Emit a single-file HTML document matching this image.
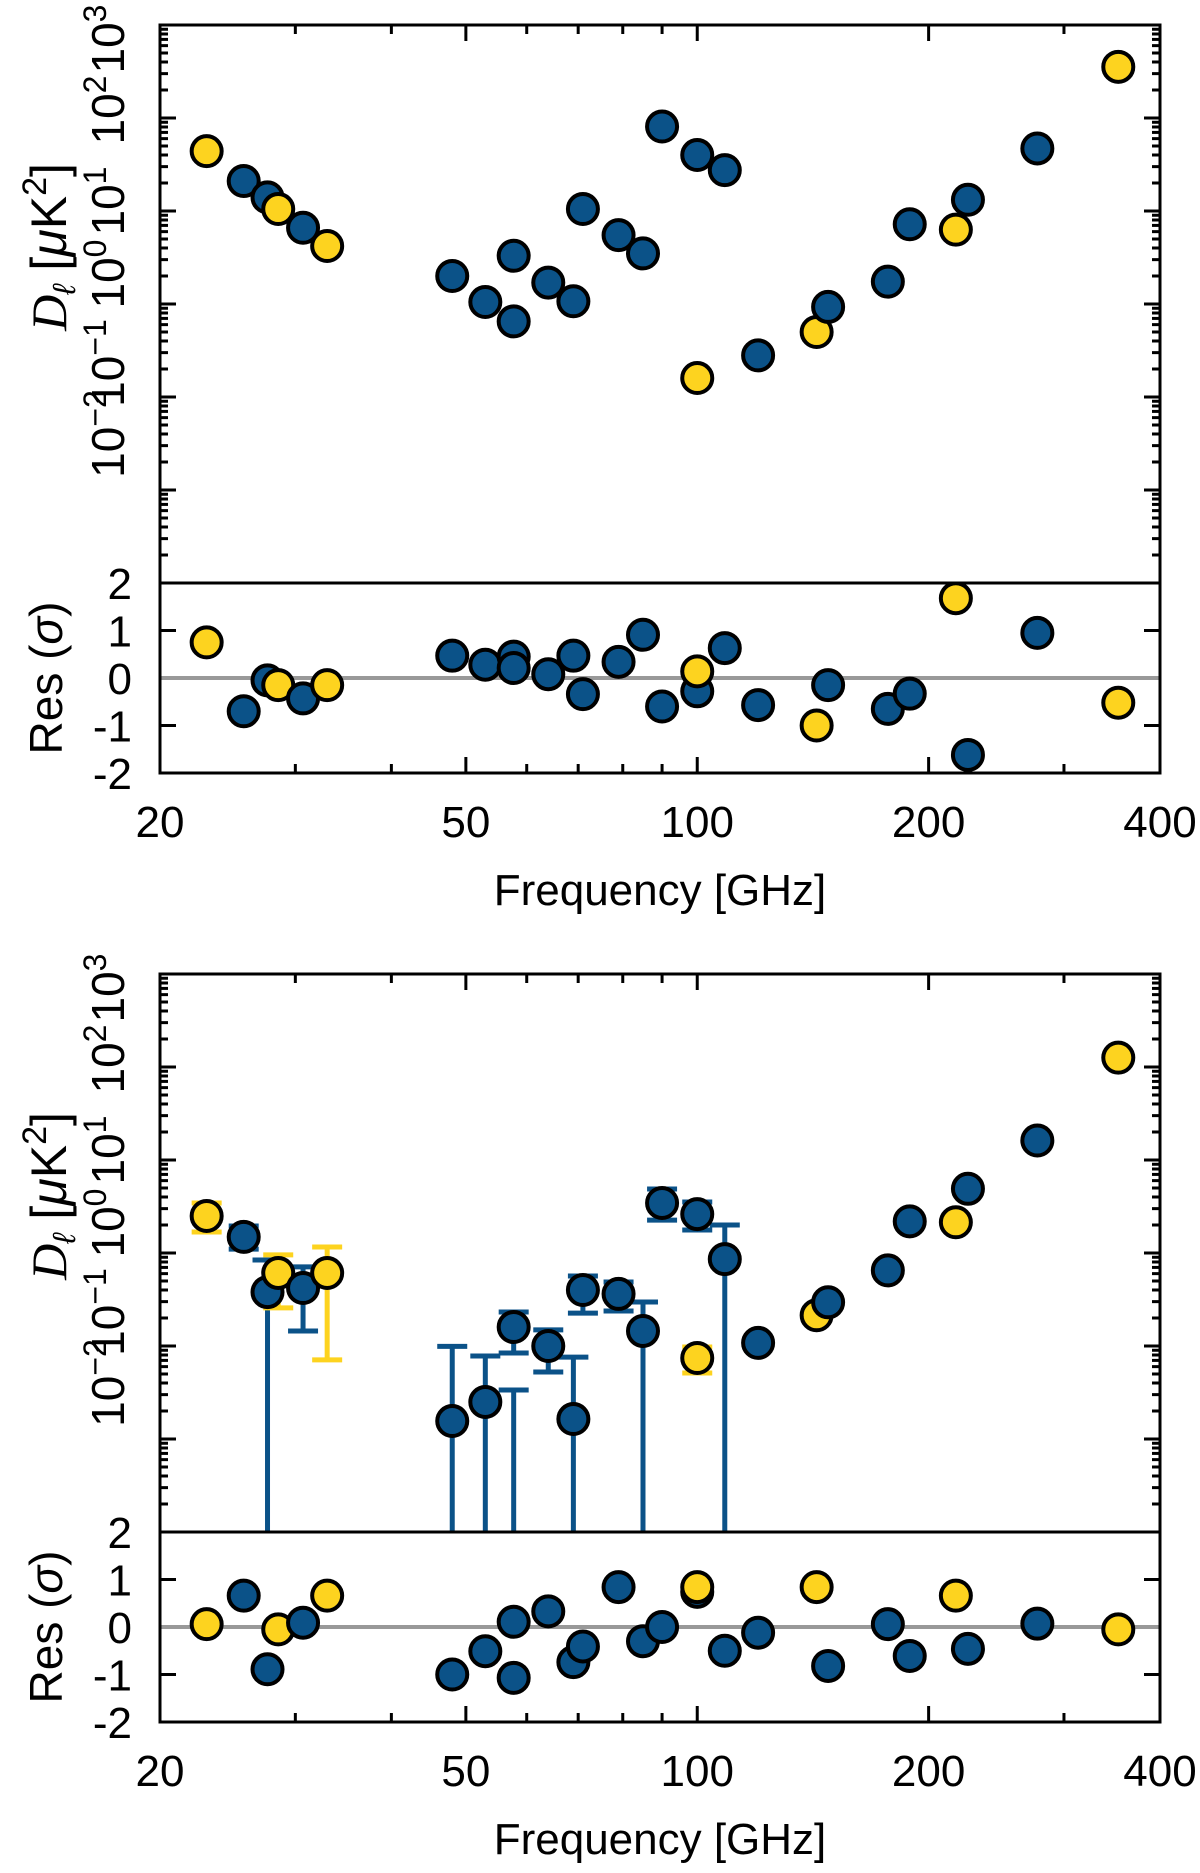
<!DOCTYPE html>
<html>
<head>
<meta charset="utf-8">
<style>
  html,body{margin:0;padding:0;background:#fff;}
  svg{display:block;font-family:"Liberation Sans","DejaVu Sans",sans-serif;}
</style>
</head>
<body>
<svg id="fig" xmlns="http://www.w3.org/2000/svg" width="1200" height="1873" viewBox="0 0 1200 1873">
  <rect x="0" y="0" width="1200" height="1873" fill="#fff"/>
</svg>
<script>
// ---- data ----
const freqs = [23,25.7,27.6,28.5,30.7,33,48,53,57.7,57.7,64,69,71,79,85,90,100,100,108.6,120,143,148,177,189,217,225,277,353];
const bands = ['Y','B','B','Y','B','Y','B','B','B','B','B','B','B','B','B','B','B','Y','B','B','Y','B','B','B','Y','B','B','Y'];
const upperVals = [44,21,14,10.5,6.6,4.2,2.0,1.05,3.3,0.65,1.7,1.07,10.5,5.5,3.5,81,40,0.16,27.5,0.28,0.5,0.93,1.74,7.2,6.3,13.2,47,355];
const upperRes = [0.75,-0.7,-0.05,-0.15,-0.43,-0.15,0.47,0.28,0.45,0.21,0.08,0.47,-0.34,0.34,0.91,-0.6,-0.28,0.14,0.63,-0.57,-1.0,-0.15,-0.65,-0.33,1.68,-1.62,0.95,-0.52];
const lowerVals = [2.5,1.49,0.38,0.61,0.42,0.61,0.0156,0.025,0.16,0.0005,0.1,0.0164,0.40,0.363,0.145,3.45,2.62,0.0743,0.86,0.108,0.214,0.295,0.65,2.19,2.14,4.9,16.2,126];
const lowerErrHi = [3.45,1.95,0.84,0.955,0.71,1.16,0.099,0.078,0.232,0.0336,0.149,0.076,0.566,0.488,0.297,4.88,3.53,0.0975,2.0,0.115,0.23,0.32,0.7,2.35,2.3,5.2,17,132];
const lowerErrLo = [1.68,1.10,0,0.257,0.145,0.071,0,0,0.084,0,0.0525,0,0.226,0.238,0,2.26,1.77,0.0513,0,0.1,0.2,0.27,0.6,2.04,2.0,4.6,15.4,120];
const lowerRes = [0.06,0.66,-0.89,-0.05,0.09,0.66,-1.0,-0.51,0.11,-1.07,0.33,-0.74,-0.41,0.84,-0.3,0.0,0.74,0.84,-0.5,-0.12,0.84,-0.82,0.06,-0.61,0.66,-0.46,0.07,-0.05];
const xTickLabels = ['20','50','100','200','400'];
const xTickVals = [20,50,100,200,400];
const xMinorVals = [30,40,60,70,80,90,300];
const yDecades = [3,2,1,0,-1,-2];
const resTickVals = [2,1,0,-1,-2];
const resTickLabels = ['2','1','0','-1','-2'];

// ---- layout ----
const NS = 'http://www.w3.org/2000/svg';
const svg = document.getElementById('fig');
const L = 160, R = 1160;
const DEC = 93, MAINH = 558, RESSIG = 47.5;
const COL = {B:'#0b5288', Y:'#fdd31f'};
const labelCenterOffset = [14,-8,-10,-30,-34,-56];

function mk(tag, attrs, parent){
  const e = document.createElementNS(NS, tag);
  for (const k in attrs) e.setAttribute(k, attrs[k]);
  (parent||svg).appendChild(e);
  return e;
}
function xs(f){ return L + (R-L)*Math.log10(f/20)/Math.log10(20); }

function panel(T, vals, errHi, errLo, res, idx){
  const g = mk('g', {});
  
  
  const ym = v => T + (3 - Math.log10(v))*DEC;
  const yr = r => T + MAINH + (2 - r)*RESSIG;
  const B = T + MAINH + 4*RESSIG;

  const cid = 'clipm' + idx, rid = 'clipr' + idx;
  const cp = mk('clipPath', {id:cid}, g); mk('rect', {x:L, y:T, width:R-L, height:MAINH}, cp);
  const cp2 = mk('clipPath', {id:rid}, g); mk('rect', {x:L, y:T+MAINH, width:R-L, height:4*RESSIG}, cp2);

  const zl = mk('line', {x1:L, x2:R, y1:yr(0), y2:yr(0), stroke:'#999', 'stroke-width':4}, g);
  
  

  const gm = mk('g', {'clip-path':'url(#'+cid+')'}, g);
  if (errHi){
    for (let i=0;i<freqs.length;i++){
      const x = xs(freqs[i]), c = COL[bands[i]];
      const yh = ym(errHi[i]);
      const yl = errLo[i] > 0 ? ym(errLo[i]) : T + MAINH + 10;
      const eb = mk('g', {stroke:c, 'stroke-width':5}, gm);
      
      
      mk('line', {x1:x, x2:x, y1:yh, y2:yl}, eb);
      mk('line', {x1:x-15, x2:x+15, y1:yh, y2:yh}, eb);
      if (errLo[i] > 0) mk('line', {x1:x-15, x2:x+15, y1:yl, y2:yl}, eb);
    }
  }
  for (let i=0;i<freqs.length;i++){
    const p = mk('circle', {cx:xs(freqs[i]), cy:ym(vals[i]), r:15, fill:COL[bands[i]], stroke:'#000', 'stroke-width':4}, gm);
    
    
  }
  const gr = mk('g', {'clip-path':'url(#'+rid+')'}, g);
  for (let i=0;i<freqs.length;i++){
    const p = mk('circle', {cx:xs(freqs[i]), cy:yr(res[i]), r:15, fill:COL[bands[i]], stroke:'#000', 'stroke-width':4}, gr);
    
    
  }

  const tk = mk('g', {stroke:'#000', 'stroke-width':3}, g);
  
  
  for (let d=3; d>=-3; d--){
    const y = T + (3-d)*DEC;
    mk('line', {x1:L, x2:L+16, y1:y, y2:y}, tk);
    mk('line', {x1:R-16, x2:R, y1:y, y2:y}, tk);
    if (d > -3){
      for (let m=2;m<=9;m++){
        const yy = y + Math.log10(10/m)*DEC;
        if (yy > T+MAINH) continue;
        mk('line', {x1:L, x2:L+8, y1:yy, y2:yy}, tk);
        mk('line', {x1:R-8, x2:R, y1:yy, y2:yy}, tk);
      }
    }
  }
  [1,-1].forEach(r => {
    mk('line', {x1:L, x2:L+16, y1:yr(r), y2:yr(r)}, tk);
    mk('line', {x1:R-16, x2:R, y1:yr(r), y2:yr(r)}, tk);
  });
  xTickVals.forEach(f => {
    const x = xs(f);
    mk('line', {x1:x, x2:x, y1:T, y2:T+16}, tk);
    mk('line', {x1:x, x2:x, y1:B-16, y2:B}, tk);
  });
  xMinorVals.forEach(f => {
    const x = xs(f);
    mk('line', {x1:x, x2:x, y1:T, y2:T+9}, tk);
    mk('line', {x1:x, x2:x, y1:B-9, y2:B}, tk);
  });

  const fr = mk('g', {fill:'none', stroke:'#000', 'stroke-width':3}, g);
  
  
  mk('rect', {x:L, y:T, width:R-L, height:MAINH}, fr);
  mk('rect', {x:L, y:T+MAINH, width:R-L, height:4*RESSIG}, fr);

  yDecades.forEach((d, k) => {
    const yc = T + (3-d)*DEC + labelCenterOffset[k];
    const t = mk('text', {x:0, y:0, 'font-size':46, 'text-anchor':'middle', transform:'translate(124,'+yc+') rotate(-90)'}, g);
    
    
    t.appendChild(document.createTextNode('10'));
    const s = mk('tspan', {'font-size':32, dy:-18}, t);
    s.textContent = d < 0 ? '\u2212' + (-d) : String(d);
  });
  resTickVals.forEach((r, k) => {
    const t = mk('text', {x:132, y:yr(r)+16, 'font-size':44, 'text-anchor':'end'}, g);
    
    
    t.textContent = resTickLabels[k];
  });
  xTickVals.forEach((f, k) => {
    const t = mk('text', {x:xs(f), y:B+64, 'font-size':44, 'text-anchor':'middle'}, g);
    
    
    t.textContent = xTickLabels[k];
  });
  const xl = mk('text', {x:660, y:B+132, 'font-size':44, 'text-anchor':'middle'}, g);
  
  
  xl.textContent = 'Frequency [GHz]';

  const yl = mk('text', {x:0, y:0, 'font-size':50, 'text-anchor':'middle', transform:'translate(66,'+(T+222)+') rotate(-90)'}, g);
  
  
  const t1 = mk('tspan', {'font-style':'italic', 'font-family':'Liberation Serif, serif'}, yl); t1.textContent = 'D';
  const t2 = mk('tspan', {'font-style':'italic', 'font-size':32, dy:9}, yl); t2.textContent = '\u2113';
  const t3 = mk('tspan', {dy:-9}, yl); t3.textContent = ' [';
  const t4 = mk('tspan', {'font-style':'italic'}, yl); t4.textContent = '\u03bc';
  const t5 = mk('tspan', {}, yl); t5.textContent = 'K';
  const t6 = mk('tspan', {'font-size':34, dy:-20}, yl); t6.textContent = '2';
  const t7 = mk('tspan', {dy:20}, yl); t7.textContent = ']';

  const rl = mk('text', {x:0, y:0, 'font-size':46, 'text-anchor':'middle', transform:'translate(62,'+yr(0)+') rotate(-90)'}, g);
  
  
  rl.appendChild(document.createTextNode('Res ('));
  const sg = mk('tspan', {'font-style':'italic'}, rl); sg.textContent = '\u03c3';
  rl.appendChild(document.createTextNode(')'));
}

panel(25, upperVals, null, null, upperRes, 1);
panel(974, lowerVals, lowerErrHi, lowerErrLo, lowerRes, 2);
</script>
</body>
</html>
